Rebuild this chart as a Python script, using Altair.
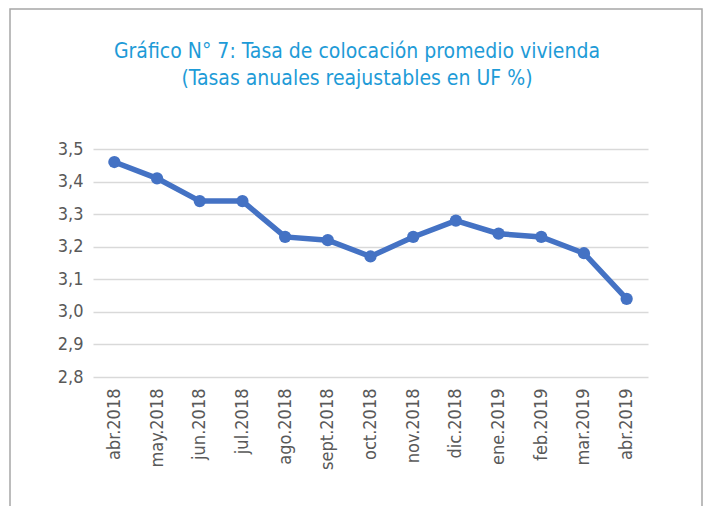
import altair as alt
import pandas as pd

months = ["abr.2018", "may.2018", "jun.2018", "jul.2018", "ago.2018", "sept.2018",
          "oct.2018", "nov.2018", "dic.2018", "ene.2019", "feb.2019", "mar.2019", "abr.2019"]
rates = [3.46, 3.41, 3.34, 3.34, 3.23, 3.22, 3.17, 3.23, 3.28, 3.24, 3.23, 3.18, 3.04]
y_ticks = [2.8, 2.9, 3.0, 3.1, 3.2, 3.3, 3.4, 3.5]
title_lines = ["Gráfico N° 7: Tasa de colocación promedio vivienda",
               "(Tasas anuales reajustables en UF %)"]

df = pd.DataFrame({"mes": months, "tasa": rates})
one = pd.DataFrame({"a": [0]})

FONT = "Liberation Sans Narrow, DejaVu Sans Condensed, Roboto, sans-serif"
LINE_BLUE = "#4472C4"

x_enc = alt.X("mes:N", sort=months, title=None,
              scale=alt.Scale(paddingOuter=0.5),
              axis=alt.Axis(labelAngle=-90, labelFontSize=18, labelColor="#595959",
                            labelFont=FONT, labelPadding=11, ticks=False,
                            domain=False, grid=False))
y_enc = alt.Y("tasa:Q", title=None,
              scale=alt.Scale(domain=[2.8, 3.5], nice=False, zero=False),
              axis=alt.Axis(values=y_ticks, labelFontSize=18, labelColor="#595959",
                            labelFont=FONT, labelPadding=10, ticks=False, domain=False,
                            gridColor="#d9d9d9", gridWidth=1.5,
                            labelExpr="replace(format(datum.value, '.1f'), '.', ',')"))

border = alt.Chart(one).mark_rect(
    fill=None, stroke="#a6a6a6", strokeWidth=1.5
).encode(x=alt.value(-83), x2=alt.value(609), y=alt.value(-140), y2=alt.value(420))

title = alt.Chart(one).mark_text(
    text=title_lines, font=FONT, fontSize=21, color="#1e9bd7", align="center",
    baseline="alphabetic", lineHeight=27
).encode(x=alt.value(264), y=alt.value(-91))

line = alt.Chart(df).mark_line(color=LINE_BLUE, strokeWidth=5.5).encode(x=x_enc, y=y_enc)
pts = alt.Chart(df).mark_circle(color=LINE_BLUE, size=150, opacity=1).encode(x=x_enc, y=y_enc)

chart = alt.layer(border, title, line, pts).properties(
    width=555, height=228,
    autosize=alt.AutoSizeParams(type="none"),
    padding={"left": 85, "top": 141, "right": 55, "bottom": 129},
).configure(background="white", view=alt.ViewConfig(stroke=None))

chart.save("out.html", embed_options={"renderer": "svg", "actions": False})
